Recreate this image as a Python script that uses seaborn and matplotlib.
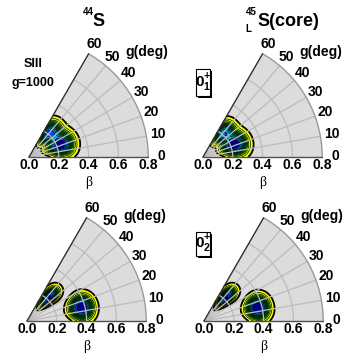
import numpy as np
import matplotlib
matplotlib.use("Agg")
import matplotlib.pyplot as plt
from matplotlib.patches import Polygon, Rectangle
import seaborn as sns

sns.set_style("white")
plt.rcParams['font.family'] = ['Liberation Sans', 'DejaVu Sans']
plt.rcParams['text.color'] = 'black'
plt.rcParams['mathtext.fontset'] = 'custom'
plt.rcParams['mathtext.rm'] = 'Liberation Sans'
plt.rcParams['mathtext.bf'] = 'Liberation Sans:bold'

W, H, DPI = 346, 354, 100
S = 149.0  # pixels per unit of beta

# ---------------- data ----------------
beta_ticks = [0.0, 0.2, 0.4, 0.6, 0.8]
beta_tick_labels = ["0.0", "0.2", "0.4", "0.6", "0.8"]
gamma_ticks = [0, 10, 20, 30, 40, 50, 60]
gamma_tick_labels = ["0", "10", "20", "30", "40", "50", "60"]
grid_betas = [0.2, 0.4, 0.6]
grid_gammas = [10, 20, 30, 40, 50]

# collective wave-function peaks (per panel)
# beta centre, gamma centre (deg), beta width, gamma width (deg), amplitude
p1_bc = [0.225, 0.21]; p1_gc = [22, 50]; p1_sb = [0.064, 0.062]; p1_sg = [13, 10]; p1_a = [1.0, 0.85]
p2_bc = [0.225, 0.21]; p2_gc = [22, 50]; p2_sb = [0.062, 0.060]; p2_sg = [13, 10]; p2_a = [1.0, 0.80]
p3_bc = [0.215, 0.375]; p3_gc = [47, 14]; p3_sb = [0.056, 0.056]; p3_sg = [7, 8.5]; p3_a = [0.95, 1.0]
p4_bc = [0.215, 0.37]; p4_gc = [47, 14]; p4_sb = [0.056, 0.054]; p4_sg = [7, 8.5]; p4_a = [0.95, 1.0]
panels = [(p1_bc, p1_gc, p1_sb, p1_sg, p1_a), (p2_bc, p2_gc, p2_sb, p2_sg, p2_a),
          (p3_bc, p3_gc, p3_sb, p3_sg, p3_a), (p4_bc, p4_gc, p4_sb, p4_sg, p4_a)]

# ---------------- layout ----------------
origins = [(29, 157), (203, 157), (27, 321), (204, 321)]
X0, X1, Y0, Y1 = -0.19, 0.98, -0.20, 0.95

fig = plt.figure(figsize=(W / DPI, H / DPI), dpi=DPI)

band_colors = sns.color_palette(["#ffff00", "#d8f000", "#90d800", "#40b800", "#00a000", "#008020",
                                 "#006a30", "#007060", "#009090", "#00b0d0", "#0050ff", "#000090"])
levels = np.linspace(0.04, 1.0, 13)

bgrid = np.linspace(0.0, 0.8, 280)
ggrid = np.radians(np.linspace(0.0, 60.0, 181))
BB, GG = np.meshgrid(bgrid, ggrid)
XX, YY = BB * np.cos(GG), BB * np.sin(GG)


def pol(b, gdeg):
    g = np.radians(gdeg)
    return b * np.cos(g), b * np.sin(g)


for i, (ox, oy) in enumerate(origins):
    left = (ox + X0 * S) / W
    bottom = (H - (oy - Y0 * S)) / H
    ax = fig.add_axes([left, bottom, (X1 - X0) * S / W, (Y1 - Y0) * S / H])
    ax.set_xlim(X0, X1)
    ax.set_ylim(Y0, Y1)
    ax.set_aspect('equal')
    ax.axis('off')
    ax.patch.set_alpha(0)

    # sector background
    th = np.linspace(0, 60, 100)
    ax_, ay_ = pol(0.8, th)
    sx = np.concatenate([[0], ax_])
    sy = np.concatenate([[0], ay_])
    ax.add_patch(Polygon(np.column_stack([sx, sy]), closed=True, fc="#dcdcdc", ec="none", zorder=0))

    # wave function
    bc, gc, sb, sg, am = panels[i]
    Z = np.zeros_like(BB)
    for k in range(len(bc)):
        d2 = ((BB - bc[k]) / sb[k]) ** 2 + ((np.degrees(GG) - gc[k]) / sg[k]) ** 2
        Z += am[k] * np.exp(-0.5 * d2 ** 1.25)
    Z = Z / Z.max()
    ax.contourf(XX, YY, Z, levels=levels, colors=band_colors, zorder=1)
    ax.contour(XX, YY, Z, levels=levels[1:], colors="black", linewidths=0.45, zorder=2)
    ax.contour(XX, YY, Z, levels=levels[:1], colors="black", linewidths=1.3, zorder=2)

    # grid
    for gb in grid_betas:
        gx, gy = pol(gb, th)
        sns.lineplot(x=gx, y=gy, sort=False, estimator=None, color="#bcbcbc", lw=0.9, ax=ax, zorder=3)
    for gg in grid_gammas:
        gx, gy = pol(np.array([0.0, 0.8]), gg)
        sns.lineplot(x=gx, y=gy, sort=False, estimator=None, color="#bcbcbc", lw=0.9, ax=ax, zorder=3)
    ax.plot(ax_, ay_, color="#9a9a9a", lw=1.0, zorder=4)
    ex, ey = pol(np.array([0.0, 0.8]), 60)
    ax.plot(ex, ey, color="#303030", lw=1.0, zorder=4)
    ax.plot([0, 0.8], [0, 0], color="#505050", lw=1.0, zorder=4)
    ax.set_xlabel("")
    ax.set_ylabel("")

    # tick labels
    for b, lab in zip(beta_ticks, beta_tick_labels):
        ax.text(b, -0.055, lab, ha="center", va="center", fontsize=10, fontweight="bold", clip_on=False)
    for g, lab in zip(gamma_ticks, gamma_tick_labels):
        r = 0.89 if g == 0 else 0.875
        tx, ty = pol(r, g)
        ax.text(tx, ty + (0.008 if g == 0 else 0), lab, ha="center", va="center",
                fontsize=10, fontweight="bold", clip_on=False)
    ax.text(118 / S, 105 / S, "g(deg)", ha="center", va="center", fontsize=10, fontweight="bold")
    ax.text(0.4, -0.172, "β", ha="center", va="center", fontsize=10,
            family=["Liberation Serif", "DejaVu Serif"])


def ftext(px, py, s, **kw):
    fig.text(px / W, 1 - py / H, s, **kw)


# titles
ftext(88, 12, "44", ha="center", va="center", fontsize=7, fontweight="bold")
ftext(92, 22, "S", ha="left", va="center", fontsize=13, fontweight="bold")
ftext(251, 12, "45", ha="center", va="center", fontsize=7, fontweight="bold")
ftext(248, 29, "L", ha="center", va="center", fontsize=7, fontweight="bold")
ftext(257, 22, "S(core)", ha="left", va="center", fontsize=13, fontweight="bold")
ftext(33, 64, "SIII", ha="center", va="center", fontsize=9, fontweight="bold")
ftext(33, 83, "g=1000", ha="center", va="center", fontsize=9, fontweight="bold")

# state boxes
for (l, t, r, b), sub in [((196, 69, 210, 96), "1"), ((196, 232, 210, 256), "2")]:
    fig.patches.append(Rectangle(((l + 2) / W, 1 - (b + 2) / H), (r - l) / W, (b - t) / H,
                                 transform=fig.transFigure, fc="black", ec="none", zorder=5))
    fig.patches.append(Rectangle((l / W, 1 - b / H), (r - l) / W, (b - t) / H,
                                 transform=fig.transFigure, fc="white", ec="black", lw=0.8, zorder=6))
    ftext((l + r) / 2 + 0.5, (t + b) / 2, r"$\mathbf{0}^{\mathbf{+}}_{\mathbf{" + sub + "}}$",
          ha="center", va="center", fontsize=11, zorder=7)

fig.savefig("out.png", dpi=DPI)
